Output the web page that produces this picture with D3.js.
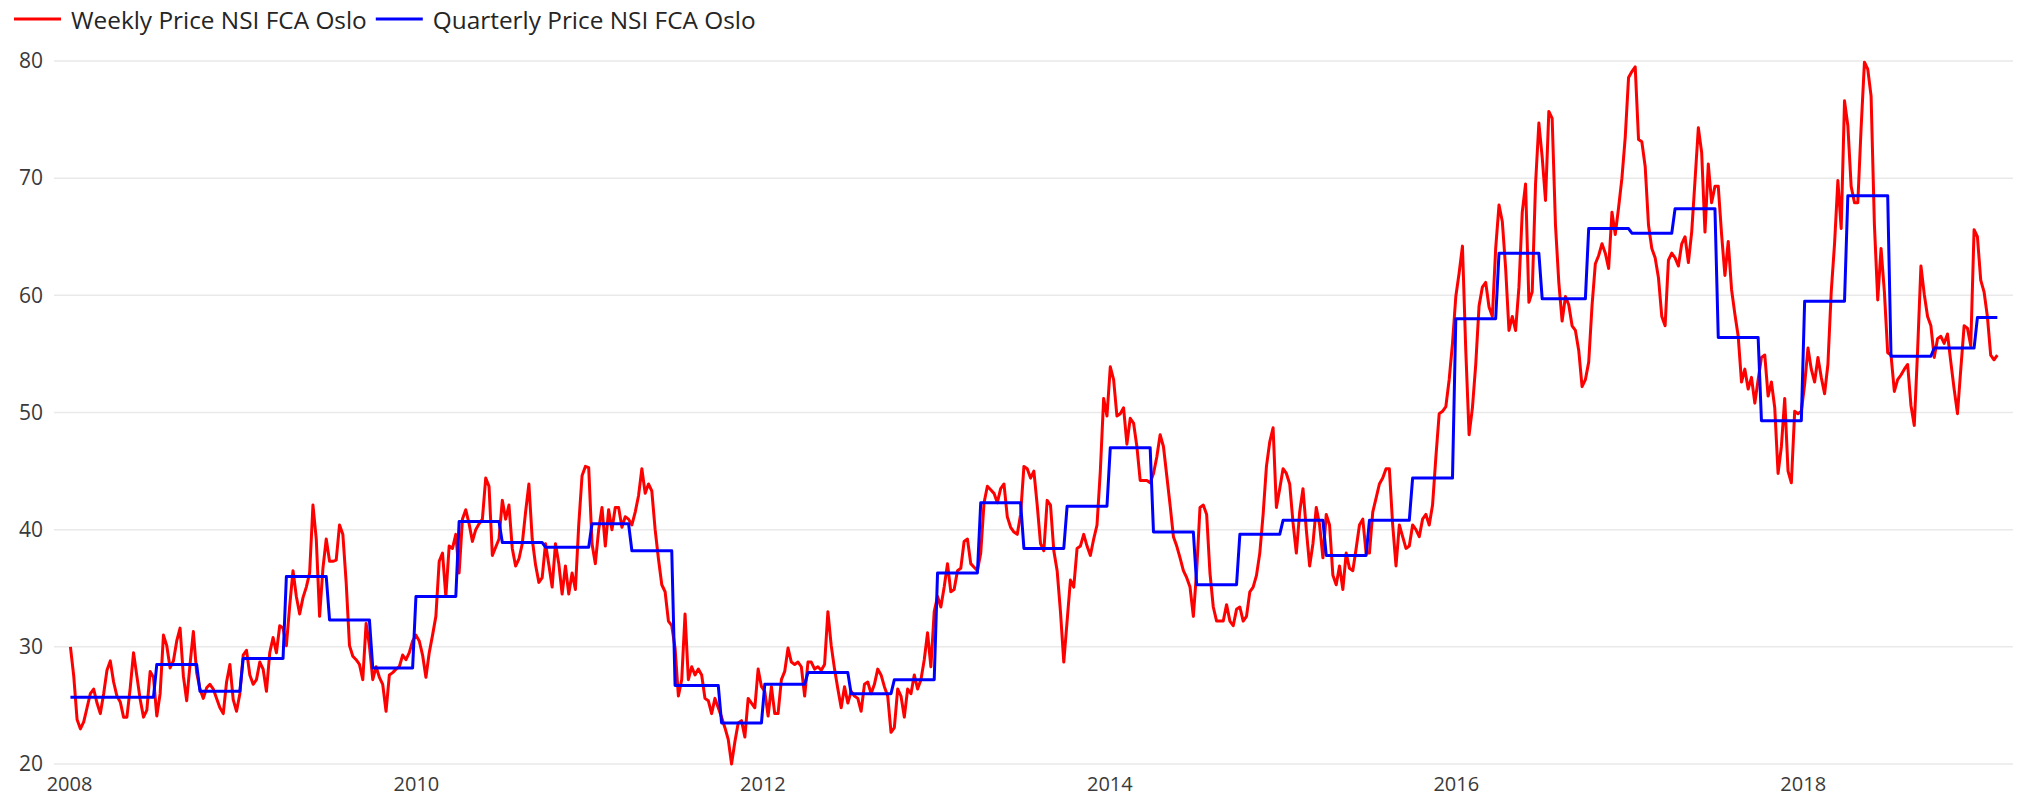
<!DOCTYPE html>
<html><head><meta charset="utf-8">
<script src="https://cdn.jsdelivr.net/npm/d3@7"></script>
<style>
body{margin:0;background:#fff;}
svg{display:block;font-family:'Open Sans','Noto Sans',sans-serif;}
</style>
</head><body>
<svg id="chart" width="2018" height="801"></svg>
<script>
// ---------------- DATA ----------------
const seriesNames = ["Weekly Price NSI FCA Oslo", "Quarterly Price NSI FCA Oslo"];
const seriesColors = ["#ff0000", "#0000ff"];
const firstWeekDate = "2008-01-04";   // weekly observations, one per week
const weeklyPrice = [
30.0,27.5,23.8,23.0,23.6,24.8,26.0,26.4,25.2,24.3,
26.0,28.0,28.8,27.0,25.8,25.3,24.0,24.0,26.5,29.5,
27.5,25.5,24.0,24.6,27.9,27.4,24.1,26.0,31.0,30.1,
28.2,28.8,30.5,31.6,27.5,25.4,28.5,31.3,27.8,26.4,
25.6,26.5,26.8,26.4,25.6,
24.8,24.3,27.0,28.5,25.5,24.5,26.0,29.3,29.7,27.6,
26.8,27.2,28.7,28.1,26.2,29.5,30.8,29.5,31.8,31.6,
30.1,33.5,36.5,34.3,32.8,34.2,35.1,36.3,42.1,39.2,
32.6,36.7,39.2,37.3,37.3,37.4,40.4,39.6,35.5,30.1,
29.2,28.9,28.5,27.2,32.0,30.1,27.2,28.3,27.4,26.8,
24.5,27.6,27.8,28.1,28.3,29.3,
28.9,29.5,30.5,31.0,30.5,29.3,27.4,29.5,31.0,32.6,
37.3,38.0,34.3,38.6,38.4,39.6,36.3,40.9,41.7,40.5,
39.0,40.0,40.5,40.9,44.4,43.7,37.8,38.5,39.2,42.5,
40.9,42.1,38.4,36.9,37.5,38.8,41.5,43.9,39.2,37.0,
35.5,35.9,38.8,37.0,35.1,38.8,37.1,34.5,36.9,34.5,
36.3,34.9,40.4,44.6,45.4,
45.3,38.8,37.1,40.0,41.9,38.6,41.7,40.0,41.9,41.9,
40.2,41.1,40.9,40.4,41.5,42.9,45.2,43.1,43.9,43.3,
40.0,37.5,35.3,34.7,32.2,31.8,29.9,25.8,27.2,32.8,
27.2,28.3,27.6,28.1,27.6,25.6,25.4,24.3,25.6,24.8,
24.0,23.1,22.1,20.0,21.9,23.5,23.7,22.3,25.6,25.2,
24.8,28.1,26.6,26.2,
24.1,26.6,24.3,24.3,27.2,27.9,29.9,28.7,28.5,28.7,
28.3,25.8,28.7,28.7,28.1,28.3,28.0,28.5,33.0,30.1,
28.1,26.4,24.8,26.6,25.2,26.2,25.8,25.6,24.5,26.8,
27.0,26.0,26.8,28.1,27.6,26.6,25.8,22.7,23.1,26.4,
25.8,24.0,26.4,26.0,27.6,26.4,27.2,28.9,31.2,28.3,
33.0,34.3,33.4,35.1,37.1,
34.7,34.9,36.5,36.7,39.0,39.2,37.1,36.8,36.5,38.0,
42.3,43.7,43.4,43.1,42.3,43.5,43.9,41.1,40.2,39.8,
39.6,41.3,45.4,45.2,44.4,45.0,42.1,38.8,38.2,42.5,
42.1,38.2,36.5,33.0,28.7,32.2,35.7,35.1,38.4,38.6,
39.6,38.6,37.8,39.2,40.4,45.0,51.2,49.7,53.9,52.8,
49.7,49.9,50.4,47.3,
49.5,49.1,47.1,44.2,44.2,44.2,44.0,44.8,46.2,48.1,
47.1,44.6,42.1,39.4,38.6,37.6,36.5,35.9,35.1,32.6,
36.5,41.9,42.1,41.3,36.3,33.4,32.2,32.2,32.2,33.6,
32.2,31.8,33.2,33.4,32.2,32.6,34.7,35.1,36.1,38.0,
41.3,45.4,47.5,48.7,41.9,43.5,45.2,44.8,43.9,40.6,
38.0,41.5,43.5,
40.0,36.9,38.8,41.9,40.4,37.6,41.3,40.4,36.1,35.3,
36.9,34.9,38.0,36.7,36.5,38.4,40.4,40.9,38.0,38.0,
41.5,42.7,43.9,44.4,45.2,45.2,40.4,36.9,40.4,39.4,
38.4,38.6,40.4,40.0,39.4,40.9,41.3,40.4,42.1,46.2,
49.9,50.1,50.5,52.8,55.9,59.9,61.9,64.2,55.3,48.1,
50.4,54.1,59.1,60.7,61.1,
59.0,58.2,64.0,67.7,66.3,62.3,57.0,58.2,57.0,60.7,
67.1,69.5,59.4,60.3,69.5,74.7,71.8,68.1,75.7,75.1,
66.0,61.1,57.8,59.9,59.2,57.4,57.0,55.3,52.2,52.8,
54.3,59.1,62.7,63.4,64.4,63.6,62.3,67.1,65.2,67.5,
70.0,73.5,78.6,79.1,79.5,73.3,73.1,71.0,66.0,64.0,
63.2,61.5,58.2,57.4,
63.0,63.6,63.2,62.5,64.4,65.0,62.8,65.4,69.8,74.3,
72.2,65.4,71.2,67.9,69.3,69.3,65.2,61.7,64.6,60.5,
58.4,56.5,52.6,53.7,52.0,53.0,50.8,52.8,54.7,54.9,
51.4,52.6,50.4,44.8,47.1,51.2,45.0,44.0,50.1,49.9,
50.1,52.4,55.5,53.7,52.6,54.7,53.0,51.6,54.1,60.3,
64.4,69.8,65.7,
76.6,74.5,69.3,67.9,67.9,74.3,79.9,79.3,77.0,66.0,
59.6,64.0,60.3,55.1,54.9,51.8,52.8,53.2,53.7,54.1,
50.6,48.9,55.3,62.5,60.1,58.2,57.4,54.7,56.3,56.5,
55.9,56.7,54.3,52.0,49.9,53.7,57.4,57.2,55.7,65.6,
65.0,61.3,60.3,58.2,54.9,54.5,54.9
];
// quarterly price, Q1 2008 ... Q1 2019
const quarterLabels = [
"2008Q1","2008Q2","2008Q3","2008Q4","2009Q1","2009Q2","2009Q3","2009Q4",
"2010Q1","2010Q2","2010Q3","2010Q4","2011Q1","2011Q2","2011Q3","2011Q4",
"2012Q1","2012Q2","2012Q3","2012Q4","2013Q1","2013Q2","2013Q3","2013Q4",
"2014Q1","2014Q2","2014Q3","2014Q4","2015Q1","2015Q2","2015Q3","2015Q4",
"2016Q1","2016Q2","2016Q3","2016Q4","2017Q1","2017Q2","2017Q3","2017Q4",
"2018Q1","2018Q2","2018Q3","2018Q4","2019Q1"];
const quarterlyPrice = [
25.7,25.7,28.5,26.2, 29.0,36.0,32.3,28.2,
34.3,40.7,38.9,38.5, 40.5,38.2,26.7,23.5,
26.8,27.8,26.0,27.2, 36.3,42.3,38.4,42.0,
47.0,39.8,35.3,39.6, 40.8,37.8,40.8,44.4,
58.0,63.6,59.7,65.7, 65.3,67.4,56.4,49.3,
59.5,68.5,54.8,55.5, 58.1];
const yTicks = [20,30,40,50,60,70,80];
const xTickYears = [2008,2010,2012,2014,2016,2018];

// ---------------- BUILD ----------------
const parse = d3.timeParse("%Y-%m-%d");
const start = parse(firstWeekDate);
const weekly = weeklyPrice.map((v,i)=>({date:d3.timeWeek.offset(start,i), value:v}));
const qIndex = new Map(quarterLabels.map((q,i)=>[q,i]));
const quarterly = weekly.map(d=>{
  const key = d.date.getFullYear()+"Q"+(Math.floor(d.date.getMonth()/3)+1);
  return {date:d.date, value:quarterlyPrice[qIndex.get(key)]};
});

const svg = d3.select("#chart");
const x = d3.scaleTime().domain([new Date(2008,0,1), new Date(2019,2,20)]).range([69, 2013]);
const y = d3.scaleLinear().domain([20,80]).range([764,61]);

// gridlines
svg.append("g").selectAll("line").data(yTicks).join("line")
  .attr("x1",54).attr("x2",2013)
  .attr("y1",d=>y(d)).attr("y2",d=>y(d))
  .attr("stroke","#e9e9e9").attr("stroke-width",1.5);

// y axis labels
svg.append("g").attr("transform","translate(43,0)")
  .call(d3.axisLeft(y).tickValues(yTicks).tickSize(0).tickPadding(0))
  .call(g=>g.select(".domain").remove())
  .attr("font-family",null).attr("font-size",21)
  .selectAll("text").attr("fill","#3a3a3a");

// x axis labels
svg.append("g").attr("transform","translate(0,777)")
  .call(d3.axisBottom(x).tickValues(xTickYears.map(yr=>new Date(yr,0,1)))
        .tickFormat(d3.timeFormat("%Y")).tickSize(0).tickPadding(0))
  .call(g=>g.select(".domain").remove())
  .attr("font-family",null).attr("font-size",20)
  .selectAll("text").attr("fill","#3a3a3a");

// lines
const line = d3.line().x(d=>x(d.date)).y(d=>y(d.value));
svg.append("path").datum(weekly).attr("d",line)
  .attr("fill","none").attr("stroke",seriesColors[0]).attr("stroke-width",3)
  .attr("stroke-linejoin","round");
svg.append("path").datum(quarterly).attr("d",line)
  .attr("fill","none").attr("stroke",seriesColors[1]).attr("stroke-width",3)
  .attr("stroke-linejoin","round");

// legend
const leg = svg.append("g");
// fit legend font so first label spans ~296px as in the reference
const probe = leg.append("text").attr("font-size",23).text(seriesNames[0]);
const legendSize = 23 * 296 / probe.node().getComputedTextLength();
probe.remove();
let lx = 14;
seriesNames.forEach((name,i)=>{
  leg.append("line").attr("x1",lx).attr("x2",lx+47).attr("y1",19).attr("y2",19)
    .attr("stroke",seriesColors[i]).attr("stroke-width",3);
  const t = leg.append("text").attr("x",lx+57).attr("y",29)
    .attr("font-size",legendSize).attr("fill","#252525").text(name);
  lx = lx + 57 + t.node().getComputedTextLength() + 9;
});
</script>
</body></html>
